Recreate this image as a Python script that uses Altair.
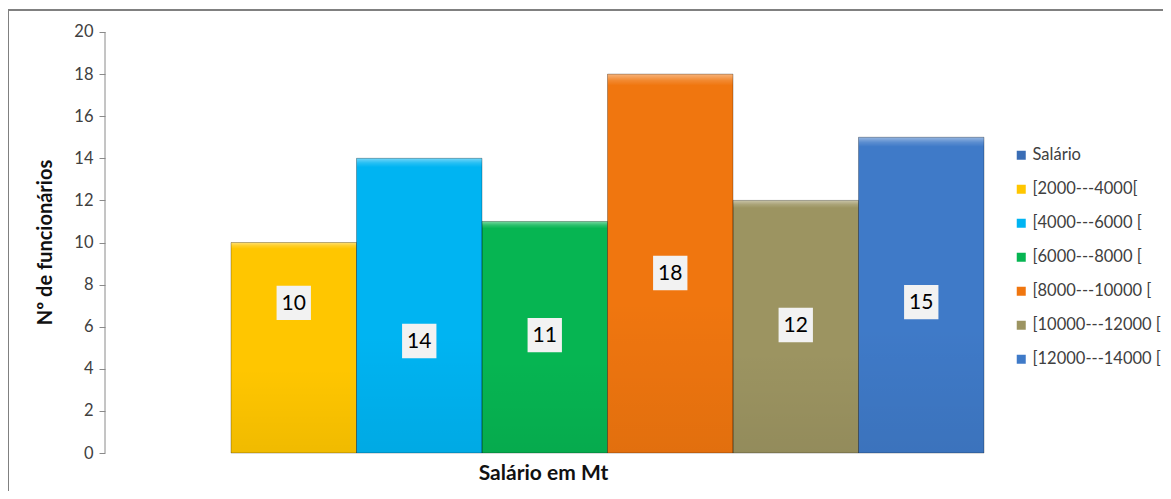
import altair as alt
import pandas as pd

categories = ["[2000---4000[", "[4000---6000 [", "[6000---8000 [",
              "[8000---10000 [", "[10000---12000 [", "[12000---14000 ["]
values = [10, 14, 11, 18, 12, 15]
label_at = [7.13, 5.32, 5.6, 8.55, 6.08, 7.17]
legend_names = ["Salário"] + categories
colors = ["#3A6DB5", "#FFC600", "#00B4F2", "#06B552", "#F0760F", "#9C9461", "#3F7AC8"]

df = pd.DataFrame({"cat": categories, "val": values, "lab": label_at})

FONT = "Lato"
W, H = 1155, 481

xs = alt.Scale(domain=categories, range=[223, 976], paddingInner=0, paddingOuter=0)
ys = alt.Scale(domain=[-1.805, 21.045], nice=False, zero=False)

base = alt.Chart(df)

bars = base.mark_bar(strokeWidth=0).encode(
    x=alt.X("cat:N", scale=xs, sort=categories,
            axis=alt.Axis(labels=False, ticks=False, domain=False, offset=-38,
                          title="Salário em Mt", titleFont=FONT, titleFontSize=21,
                          titleFontWeight="bold", titleColor="#111111",
                          titleX=535, titleY=26, titleBaseline="alphabetic",
                          titleAlign="center")),
    y=alt.Y("val:Q", scale=ys,
            axis=alt.Axis(values=list(range(0, 21, 2)), offset=-97, domain=False,
                          grid=False, tickSize=6, tickColor="#8a8a8a", tickWidth=1,
                          labelFont=FONT, labelFontSize=16.5, labelColor="#404040",
                          labelPadding=6,
                          title="Nº de funcionários", titleFont=FONT, titleFontSize=20,
                          titleFontWeight="bold", titleColor="#111111",
                          titleAngle=-90, titleX=-54, titleY=232,
                          titleBaseline="alphabetic", titleAlign="center")),
    y2=alt.datum(0),
    color=alt.Color("cat:N", scale=alt.Scale(domain=legend_names, range=colors),
                    legend=alt.Legend(title=None, orient="none", legendX=1005, legendY=137,
                                      symbolType="square", symbolSize=81,
                                      symbolStrokeWidth=0, labelFont=FONT,
                                      labelFontSize=16.5, labelColor="#404040",
                                      rowPadding=17, labelOffset=3, padding=0,
                                      labelLimit=200)),
)

shade = base.mark_bar(
    color=alt.Gradient(gradient="linear", x1=0, x2=0, y1=0, y2=1, stops=[
        alt.GradientStop(color="rgba(255,255,255,0.45)", offset=0),
        alt.GradientStop(color="rgba(255,255,255,0.15)", offset=0.016),
        alt.GradientStop(color="rgba(255,255,255,0)", offset=0.03),
        alt.GradientStop(color="rgba(0,0,0,0)", offset=0.6),
        alt.GradientStop(color="rgba(0,0,0,0.06)", offset=1),
    ]),
    stroke="rgba(0,0,0,0.28)", strokeWidth=1,
).encode(
    x=alt.X("cat:N", scale=xs, sort=categories),
    y=alt.Y("val:Q", scale=ys),
    y2=alt.datum(0),
)

boxes = base.mark_square(size=1180, color="#f2f2f2", opacity=1).encode(
    x=alt.X("cat:N", scale=xs, sort=categories),
    y=alt.Y("lab:Q", scale=ys),
)

texts = base.mark_text(font=FONT, fontSize=21, color="#000000", baseline="middle",
                       align="center", dy=1).encode(
    x=alt.X("cat:N", scale=xs, sort=categories),
    y=alt.Y("lab:Q", scale=ys),
    text="val:Q",
)

yline = alt.Chart(pd.DataFrame({"a": [0], "b": [20]})).mark_rule(
    color="#8a8a8a", strokeWidth=1).encode(
    x=alt.value(97), y=alt.Y("a:Q", scale=ys), y2="b:Q")

top_border = alt.Chart(pd.DataFrame({"a": [0]})).mark_rule(
    color="#808080", strokeWidth=2).encode(
    x=alt.value(0), x2=alt.value(W), y=alt.value(0))
left_border = alt.Chart(pd.DataFrame({"a": [0]})).mark_rule(
    color="#808080", strokeWidth=2).encode(
    x=alt.value(0), y=alt.value(0), y2=alt.value(H))

chart = alt.layer(bars, shade, boxes, texts, yline, top_border, left_border).properties(
    width=W, height=H,
    autosize=alt.AutoSizeParams(type="none"),
    padding={"left": 0, "top": 2, "right": 0, "bottom": 0},
    background="white",
).configure_view(stroke=None)

chart.save("out.html", embed_options={"renderer": "svg", "actions": False})
